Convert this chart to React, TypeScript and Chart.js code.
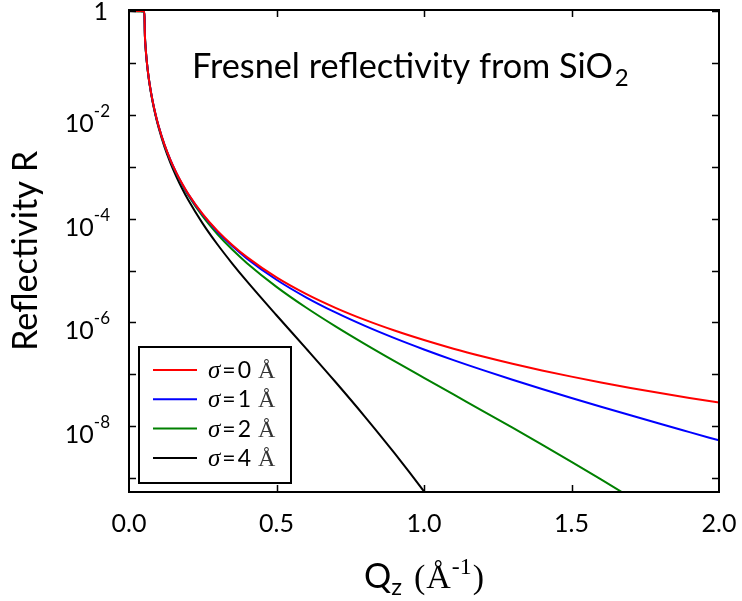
import React, { useEffect, useRef } from "react";
import { Chart, registerables } from "chart.js";

Chart.register(...registerables);

// Momentum transfer Qz (Å^-1)
const qValues = [
  0, 0.02, 0.04, 0.05, 0.052, 0.054, 0.056, 0.06, 0.065, 0.07, 0.08, 0.09, 0.1,
  0.12, 0.14, 0.16, 0.18, 0.2, 0.25, 0.3, 0.35, 0.4, 0.5, 0.6, 0.7, 0.8, 0.9,
  1.0, 1.1, 1.2, 1.3, 1.4, 1.5, 1.6, 1.7, 1.8, 1.9, 2.0,
];

// Reflectivity, sigma = 0 Å
const rSigma0 = [
  1, 1, 1, 1, 1, 0.331, 0.2104, 0.1118, 0.0625, 0.0392, 0.0186, 0.01024, 0.006183,
  0.002698, 0.001377, 7.79e-4, 4.74e-4, 3.06e-4, 1.223e-4, 5.816e-5, 3.114e-5,
  1.816e-5, 7.391e-6, 3.553e-6, 1.914e-6, 1.12e-6, 6.988e-7, 4.582e-7, 3.121e-7,
  2.204e-7, 1.6e-7, 1.19e-7, 9.03e-8, 6.97e-8, 5.47e-8, 4.35e-8, 3.51e-8, 2.86e-8,
];

// Reflectivity, sigma = 1 Å
const rSigma1 = [
  1, 1, 0.999, 0.999, 0.999, 0.3306, 0.2101, 0.1116, 0.0624, 0.0391, 0.01857,
  0.01021, 0.006157, 0.002682, 0.001366, 7.706e-4, 4.676e-4, 3.009e-4, 1.191e-4,
  5.6e-5, 2.958e-5, 1.698e-5, 6.654e-6, 3.055e-6, 1.558e-6, 8.563e-7, 4.973e-7,
  3.01e-7, 1.878e-7, 1.204e-7, 7.867e-8, 5.224e-8, 3.51e-8, 2.378e-8, 1.625e-8,
  1.116e-8, 7.708e-9, 5.331e-9,
];

// Reflectivity, sigma = 2 Å
const rSigma2 = [
  1, 0.999, 0.997, 0.996, 0.995, 0.3294, 0.2093, 0.1111, 0.06206, 0.03888, 0.0184,
  0.0101, 6.08e-3, 2.634e-3, 1.332e-3, 7.462e-4, 4.489e-4, 2.861e-4, 1.101e-4,
  5.0e-5, 2.535e-5, 1.388e-5, 4.856e-6, 1.941e-6, 8.402e-7, 3.823e-7, 1.792e-7,
  8.541e-8, 4.088e-8, 1.961e-8, 9.354e-9, 4.421e-9, 2.061e-9, 9.45e-10, 4.261e-10,
  1.882e-10, 8.15e-11, 3.45e-11,
];

// Reflectivity, sigma = 4 Å
const rSigma4 = [
  1, 0.997, 0.989, 0.983, 0.982, 0.3246, 0.206, 0.1091, 0.06075, 0.03793, 0.01782,
  9.697e-3, 5.781e-3, 2.449e-3, 1.207e-3, 6.559e-4, 3.813e-4, 2.339e-4, 8.035e-5,
  3.177e-5, 1.367e-5, 6.196e-6, 1.378e-6, 3.162e-7, 7.111e-8, 1.519e-8, 3.023e-9,
  5.528e-10, 9.19e-11, 1.38e-11, null, null, null, null, null, null, null, null,
];

const seriesSigmas = [0, 1, 2, 4];
const seriesColors = ["#ff0000", "#0000ff", "#008000", "#000000"];

const xTickValues = [0, 0.5, 1, 1.5, 2];
const xTickLabels = ["0.0", "0.5", "1.0", "1.5", "2.0"];
const yTickExponents = [0, -1, -2, -3, -4, -5, -6, -7, -8, -9];
const yLabelExponents = [0, -2, -4, -6, -8];

const titleMain = "Fresnel reflectivity from SiO";
const titleSub = "2";
const yAxisTitle = "Reflectivity R";

const SANS = '"Lato", "DejaVu Sans", sans-serif';
const SERIF = '"Liberation Serif", "DejaVu Serif", serif';

const decorPlugin = {
  id: "decor",
  afterDatasetsDraw(chart: any) {
    const { ctx, chartArea: a } = chart;
    const xs = chart.scales.x;
    const ys = chart.scales.y;
    ctx.save();
    ctx.textAlign = "left";
    ctx.textBaseline = "alphabetic";

    // Legend
    const lx0 = 139, ly0 = 347, lx1 = 291, ly1 = 483;
    ctx.fillStyle = "#fff";
    ctx.fillRect(lx0, ly0, lx1 - lx0, ly1 - ly0);
    ctx.lineWidth = 2;
    ctx.strokeStyle = "#000";
    ctx.strokeRect(lx0, ly0, lx1 - lx0, ly1 - ly0);
    seriesSigmas.forEach((s, i) => {
      const yy = 370 + i * 29.3;
      ctx.strokeStyle = seriesColors[i];
      ctx.lineWidth = 2;
      ctx.beginPath();
      ctx.moveTo(153, yy);
      ctx.lineTo(197, yy);
      ctx.stroke();
      const base = yy + 8;
      let tx = 208;
      ctx.fillStyle = "#000";
      ctx.font = `italic 25px ${SERIF}`;
      ctx.fillText("σ", tx, base);
      tx += ctx.measureText("σ").width + 2;
      ctx.font = `23px ${SANS}`;
      ctx.fillText("=", tx, base);
      tx += ctx.measureText("=").width + 2;
      ctx.fillText(String(s), tx, base);
      tx += ctx.measureText(String(s)).width + 7;
      ctx.font = `24px ${SERIF}`;
      ctx.fillStyle = "#333";
      ctx.fillText("Å", tx, base);
    });

    // Inward ticks on all four sides
    ctx.strokeStyle = "#000";
    ctx.lineWidth = 1.5;
    const tl = 7;
    xTickValues.forEach((v) => {
      const px = Math.round(xs.getPixelForValue(v)) + 0.5;
      if (px <= a.left + 1 || px >= a.right - 1) return;
      ctx.beginPath();
      ctx.moveTo(px, a.bottom);
      ctx.lineTo(px, a.bottom - tl);
      ctx.moveTo(px, a.top);
      ctx.lineTo(px, a.top + tl);
      ctx.stroke();
    });
    yTickExponents.forEach((e) => {
      const py = Math.round(ys.getPixelForValue(Math.pow(10, e))) + 0.5;
      if (py < a.top || py > a.bottom) return;
      ctx.beginPath();
      ctx.moveTo(a.left, py);
      ctx.lineTo(a.left + tl, py);
      ctx.moveTo(a.right, py);
      ctx.lineTo(a.right - tl, py);
      ctx.stroke();
    });

    // Frame
    ctx.lineWidth = 2;
    ctx.strokeRect(a.left, a.top, a.right - a.left, a.bottom - a.top);

    // X tick labels
    ctx.fillStyle = "#000";
    ctx.font = `25px ${SANS}`;
    ctx.textAlign = "center";
    xTickValues.forEach((v, i) => {
      ctx.fillText(xTickLabels[i], xs.getPixelForValue(v), 532);
    });

    // Y tick labels with superscripts
    ctx.textAlign = "right";
    yLabelExponents.forEach((e) => {
      const py = ys.getPixelForValue(Math.pow(10, e));
      if (e === 0) {
        ctx.font = `25px ${SANS}`;
        ctx.fillText("1", 108, py + 9);
        return;
      }
      const sup = String(e);
      ctx.font = `17px ${SANS}`;
      const sw = ctx.measureText(sup).width;
      ctx.fillText(sup, 110, py + 2);
      ctx.font = `25px ${SANS}`;
      ctx.fillText("10", 110 - sw, py + 17);
    });

    // Title inside the plot
    ctx.textAlign = "left";
    ctx.font = `100px ${SANS}`;
    const tw100 = ctx.measureText(titleMain).width;
    const tSize = (100 * 421) / tw100;
    ctx.font = `${tSize}px ${SANS}`;
    ctx.fillText(titleMain, 192, 78);
    const tw = ctx.measureText(titleMain).width;
    ctx.font = `${tSize * 0.7}px ${SANS}`;
    ctx.fillText(titleSub, 192 + tw + 2, 86);

    // Y axis title
    ctx.save();
    ctx.translate(37, (a.top + a.bottom) / 2);
    ctx.rotate(-Math.PI / 2);
    ctx.textAlign = "center";
    ctx.font = `${tSize}px ${SANS}`;
    ctx.fillText(yAxisTitle, 0, 0);
    ctx.restore();

    // X axis title: Q_z (Å^-1)
    const S = 34;
    const pieces: [string, string, number, number][] = [
      ["Q", `${S}px ${SANS}`, 0, 0],
      ["z", `${S * 0.7}px ${SANS}`, 7, 12],
      ["(", `${S}px ${SERIF}`, 0, 1],
      ["Å", `${S}px ${SERIF}`, 0, 1],
      ["-1", `${S * 0.7}px ${SERIF}`, -14, 1],
      [")", `${S}px ${SERIF}`, 0, 0],
    ];
    let total = 0;
    const widths = pieces.map(([t, f, , gap]) => {
      ctx.font = f;
      const w = ctx.measureText(t).width + gap;
      total += w;
      return w;
    });
    let px = (a.left + a.right) / 2 - total / 2;
    ctx.textAlign = "left";
    pieces.forEach(([t, f, dy], i) => {
      ctx.font = f;
      ctx.fillText(t, px, 588 + dy);
      px += widths[i];
    });

    ctx.restore();
  },
};

export default function App() {
  const canvasRef = useRef<HTMLCanvasElement | null>(null);

  useEffect(() => {
    document.body.style.margin = "0";
    const canvas = canvasRef.current;
    if (!canvas) return;
    const seriesValues = [rSigma0, rSigma1, rSigma2, rSigma4];
    const chart = new Chart(canvas, {
      type: "line",
      data: {
        datasets: seriesValues.map((vals, i) => ({
          label: `σ=${seriesSigmas[i]} Å`,
          data: qValues.map((q, j) => ({ x: q, y: vals[j] })),
          borderColor: seriesColors[i],
          backgroundColor: seriesColors[i],
          borderWidth: 2,
          pointRadius: 0,
          fill: false,
          cubicInterpolationMode: "monotone" as const,
          spanGaps: false,
        })),
      },
      options: {
        animation: false,
        responsive: true,
        maintainAspectRatio: false,
        layout: { padding: { top: 10, right: 23, left: 0, bottom: 0 } },
        plugins: {
          legend: { display: false },
          tooltip: { enabled: false },
        },
        scales: {
          x: {
            type: "linear",
            min: 0,
            max: 2,
            grid: { display: false },
            border: { display: false },
            ticks: { display: false },
            afterFit: (s: any) => {
              s.height = 109;
            },
          },
          y: {
            type: "logarithmic",
            min: 5.4e-10,
            max: 1.05,
            grid: { display: false },
            border: { display: false },
            ticks: { display: false },
            afterFit: (s: any) => {
              s.width = 129;
            },
          },
        },
      },
      plugins: [decorPlugin],
    });
    return () => chart.destroy();
  }, []);

  return (
    <div style={{ width: 742, height: 601, position: "relative", background: "#fff" }}>
      <canvas ref={canvasRef} />
    </div>
  );
}
